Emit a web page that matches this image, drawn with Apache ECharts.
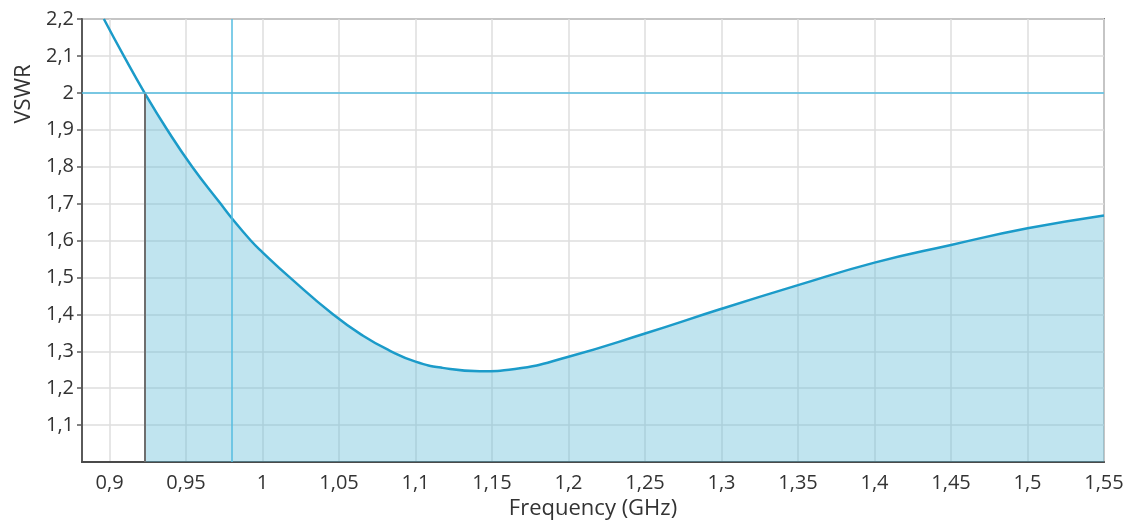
<!DOCTYPE html>
<html>
<head>
<meta charset="utf-8">
<title>VSWR</title>
<script src="https://cdn.jsdelivr.net/npm/echarts@6/dist/echarts.min.js"></script>
<style>
  html, body { margin: 0; padding: 0; background: #fff; }
  #chart { width: 1135px; height: 528px; }
</style>
</head>
<body>
<div id="chart"></div>
<script>
// Measured antenna VSWR versus frequency
const freqGHz = [0.8963, 0.9093, 0.9229, 0.9377, 0.954, 0.9725, 0.979, 0.9923, 1.0, 1.0178,
                 1.046, 1.0657, 1.083, 1.1, 1.1177, 1.142, 1.165, 1.2, 1.25,
                 1.3, 1.35, 1.4, 1.45, 1.5, 1.55];
const vswr    = [2.2, 2.1, 2.0, 1.9, 1.8, 1.7, 1.665, 1.6, 1.568, 1.5,
                 1.4, 1.342, 1.302, 1.272, 1.255, 1.246, 1.252, 1.285, 1.348,
                 1.415, 1.479, 1.54, 1.588, 1.633, 1.668];

// Frequency tick labels
const freqTicks = [0.9, 0.95, 1, 1.05, 1.1, 1.15, 1.2, 1.25, 1.3, 1.35, 1.4, 1.45, 1.5, 1.55];

// Reference markers
const vswrLimit = [2];        // acceptance level
const bandStart = [0.9229];   // lower edge of the band where VSWR <= 2
const markerFreq = [0.979];   // marker frequency

const curve = freqGHz.map((f, i) => [f, vswr[i]]);
const band = curve.filter(p => p[0] >= bandStart[0]);

const comma = v => String(+Number(v).toFixed(2)).replace('.', ',');
const font = '"Open Sans", "Noto Sans", sans-serif';

const chart = echarts.init(document.getElementById('chart'));
chart.setOption({
  animation: false,
  backgroundColor: '#fff',
  grid: {
    left: 82, right: 31, top: 19, bottom: 66,
    outerBoundsMode: 'none',
    containLabel: false,
    show: true, borderColor: '#7d7d7d', borderWidth: 2, backgroundColor: 'transparent'
  },
  xAxis: {
    type: 'value',
    min: 0.882, max: 1.55,
    name: 'Frequency (GHz)',
    nameLocation: 'middle',
    nameGap: 36,
    nameTextStyle: { fontFamily: font, fontSize: 22, color: '#333' },
    axisLine: { show: true, lineStyle: { color: '#4a4a4a', width: 2 } },
    axisTick: { show: false, customValues: freqTicks },
    axisLabel: {
      customValues: freqTicks,
      formatter: comma,
      margin: 11,
      fontFamily: font, fontSize: 20, color: '#333'
    },
    splitLine: { show: true, lineStyle: { color: '#dedede', width: 1.5 } }
  },
  yAxis: {
    type: 'value',
    min: 1, max: 2.2, interval: 0.1,
    axisLine: { show: true, lineStyle: { color: '#5a5a5a', width: 2 } },
    axisTick: { show: true, length: 5, lineStyle: { color: '#5a5a5a', width: 1.5 } },
    axisLabel: {
      showMinLabel: false,
      formatter: comma,
      margin: 8,
      fontFamily: font, fontSize: 20, color: '#333'
    },
    splitLine: { show: true, lineStyle: { color: '#dedede', width: 1.5 } }
  },
  graphic: [{
    type: 'text',
    x: 24, y: 94,
    rotation: Math.PI / 2,
    style: {
      text: 'VSWR',
      align: 'center', verticalAlign: 'middle',
      font: '22px ' + font,
      fill: '#333'
    }
  }],
  series: [
    {
      // shaded band below the curve
      type: 'line',
      data: band,
      smooth: 0.5,
      symbol: 'none',
      lineStyle: { width: 0 },
      areaStyle: { color: 'rgba(98,188,215,0.4)', opacity: 1, origin: 'start' },
      z: 2,
      markLine: {
        silent: true,
        symbol: 'none',
        label: { show: false },
        lineStyle: { type: 'solid' },
        data: [
          [{ coord: [bandStart[0], 1], lineStyle: { color: '#6e6e6e', width: 2 } },
           { coord: [bandStart[0], vswrLimit[0]] }]
        ]
      }
    },
    {
      type: 'line',
      data: curve,
      smooth: 0.5,
      symbol: 'none',
      lineStyle: { color: '#1b9bc9', width: 2.5 },
      z: 4,
      markLine: {
        silent: true,
        symbol: 'none',
        label: { show: false },
        lineStyle: { type: 'solid', color: '#55bde0', width: 1.5 },
        data: [
          { yAxis: vswrLimit[0] },
          { xAxis: markerFreq[0] }
        ]
      }
    }
  ]
});
</script>
</body>
</html>
